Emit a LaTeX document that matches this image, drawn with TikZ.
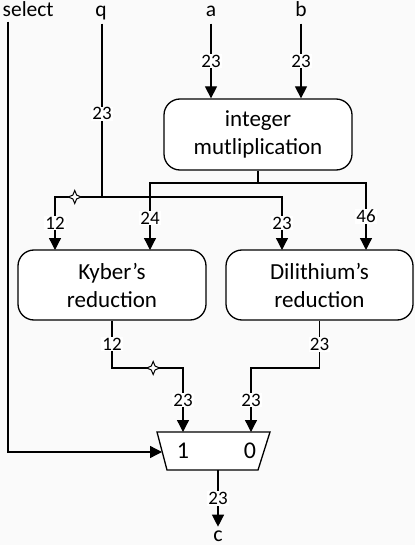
\documentclass[tikz,border=0pt]{standalone}
\usepackage{fontspec}
\setmainfont{Carlito}
\usetikzlibrary{arrows.meta,shapes.geometric}
\definecolor{bgcol}{RGB}{250,250,250}

\tikzset{
  unit/.style={draw, fill=white, rounded corners=16pt, align=center, minimum width=188pt, minimum height=70pt, font=\fontsize{23}{28}\selectfont},
  bits/.style={fill=white, inner sep=1pt, font=\fontsize{19}{19}\selectfont},
  arr/.style={-{Triangle[length=12pt,width=12pt]}},
  tap/.style={star, star points=4, star point ratio=2.4, draw, line width=1pt, fill=white, minimum size=13pt, inner sep=0pt},
  port/.style={font=\fontsize{21.5}{21.5}\selectfont, text depth=4pt, inner sep=2pt},
}

\begin{document}
\begin{tikzpicture}[x=1pt,y=-1pt,line width=1.3pt]
  \fill[bgcol] (0,0) rectangle (415,545);
  \useasboundingbox (0,0) rectangle (415,545);

  % inputs
  \node[port, anchor=base west, inner sep=0pt] (sel) at (2,17) {select};
  \node[port, anchor=base] (q) at (101,17) {q};
  \node[port, anchor=base] (a) at (211,17) {a};
  \node[port, anchor=base] (b) at (301,17) {b};

  % blocks
  \node[unit, minimum height=71pt] (mult) at (258,134.5) {integer\\mutliplication};
  \node[unit] (kyb) at (112,285) {Kyber’s\\reduction};
  \node[unit, minimum width=187pt] (dil) at (319.5,285) {Dilithium’s\\reduction};

  \coordinate (mb) at (258,183);
  \coordinate (qb) at (102,197);
  \coordinate (k1) at (55,250);
  \coordinate (k2) at (150,250);
  \coordinate (d1) at (282,250);
  \coordinate (d2) at (366,250);
  \coordinate (kb) at (112,368);
  \coordinate (db) at (319.5,368);
  \coordinate (m1) at (183,432);
  \coordinate (m0) at (251,432);
  \coordinate (msel) at (162,452);
  \coordinate (mo) at (218,470);

  \draw[arr] (a) -- node[bits]{23} (a |- mult.north);
  \draw[arr] (b) -- node[bits]{23} (b |- mult.north);
  \draw (q.south -| qb) -- node[bits, pos=0.52]{23} (qb);

  \draw (mult.south) -- (mb);
  \draw[arr] (mb) -| node[bits, pos=0.76]{24} (k2);
  \draw[arr] (mb) -| node[bits, pos=0.75]{46} (d2);
  \draw[arr] (qb) -| node[tap, pos=0.29]{} node[bits, pos=0.745]{12} (k1);
  \draw[arr] (qb) -| node[bits, pos=0.745]{23} (d1);

  % multiplexer
  \draw[fill=white] (157,432) -- (270,432) -- (258,470) -- (167,470) -- cycle;
  \node[font=\fontsize{24}{24}\selectfont] (one) at (183,451) {1};
  \node[font=\fontsize{24}{24}\selectfont] (zero) at (250,451) {0};

  \draw[arr] (kyb.south) -- node[bits]{12} (kb) -- node[tap, pos=0.58]{} (kb -| m1) -- node[bits]{23} (m1);
  \draw[arr] (dil.south) -- node[bits]{23} (db) -- (db -| m0) -- node[bits]{23} (m0);
  \draw[arr] ([xshift=6pt]sel.south west) |- (msel);

  \node[font=\fontsize{22}{22}\selectfont, anchor=base, inner sep=0pt] (c) at (218,541) {c};
  \draw[arr] (mo) -- node[bits]{23} ([yshift=3pt]c.north);
\end{tikzpicture}
\end{document}
